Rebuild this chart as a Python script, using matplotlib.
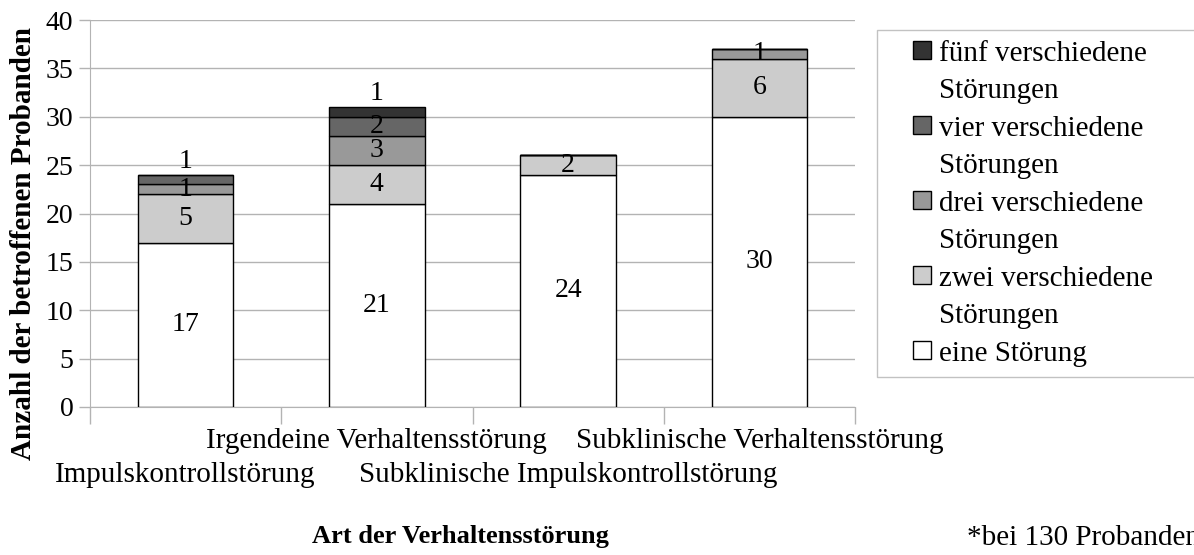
import matplotlib
matplotlib.use("Agg")
import matplotlib.pyplot as plt
import matplotlib.transforms as mtransforms
from matplotlib.patches import Patch, Rectangle
from matplotlib.legend_handler import HandlerPatch

categories = ["Impulskontrollstörung", "Irgendeine Verhaltensstörung",
              "Subklinische Impulskontrollstörung", "Subklinische Verhaltensstörung"]
series_names = ["eine Störung", "zwei verschiedene\nStörungen", "drei verschiedene\nStörungen",
                "vier verschiedene\nStörungen", "fünf verschiedene\nStörungen"]
eine = [17, 21, 24, 30]
zwei = [5, 4, 2, 6]
drei = [1, 3, 0, 1]
vier = [1, 2, 0, 0]
fuenf = [0, 1, 0, 0]
series = [eine, zwei, drei, vier, fuenf]
colors = ["#ffffff", "#cccccc", "#999999", "#666666", "#333333"]

plt.rcParams['font.family'] = ['Liberation Serif', 'DejaVu Serif']
fig = plt.figure(figsize=(11.94, 5.55), dpi=100)
ax = fig.add_axes([90/1194, 1-407/555, (855-90)/1194, (407-20)/555])

x = list(range(len(categories)))
totals = [sum(s[i] for s in series) for i in x]
bottom = [0]*len(categories)
for vals, col in zip(series, colors):
    ax.bar(x, vals, width=0.5, bottom=bottom, color=col, edgecolor="black", linewidth=1.0, zorder=3)
    for i, v in enumerate(vals):
        if v > 0:
            top = bottom[i] + v
            if top == totals[i] and v == 1 and i in (0, 1):
                ax.text(i, top + 0.1, str(v), ha="center", va="bottom", fontsize=20, zorder=4)
            else:
                ax.text(i, bottom[i] + v/2, str(v), ha="center", va="center", fontsize=20, zorder=4)
    bottom = [b + v for b, v in zip(bottom, vals)]

ax.set_xlim(-0.5, 3.5)
ax.set_ylim(0, 40)
ax.set_yticks(range(0, 41, 5))
ax.yaxis.grid(True, color="#b3b3b3", linewidth=1, zorder=0)
ax.set_axisbelow(True)
for s in ["top", "right"]:
    ax.spines[s].set_visible(False)
for s in ["left", "bottom"]:
    ax.spines[s].set_color("#b3b3b3")
ax.tick_params(axis="y", colors="#b3b3b3", length=8, width=1, labelcolor="black", labelsize=20, pad=4)
ax.set_xticks([-0.5, 0.5, 1.5, 2.5, 3.5])
ax.set_xticklabels([])
ax.tick_params(axis="x", colors="#b3b3b3", length=12, width=1)

trans = mtransforms.blended_transform_factory(ax.transData, ax.transAxes)
for i, c in enumerate(categories):
    yy = -0.087 if i % 2 == 1 else -0.175
    ax.text(i, yy, c, transform=trans, ha="center", va="center", fontsize=21)

fig.text(24/1194, 1-243/555, "Anzahl der betroffenen Probanden", rotation=90, ha="center", va="center",
         fontsize=21, fontweight="bold")
fig.text(460/1194, 1-537/555, "Art der Verhaltensstörung", ha="center", va="center",
         fontsize=19, fontweight="bold")
fig.text(967/1194, 1-538/555, "*bei 130 Probanden", ha="left", va="center", fontsize=21)

# legend: one row per text line, handle only on first line of each entry
SQ = 18 * 72 / 100  # square side in points


def square(legend, orig_handle, xdescent, ydescent, width, height, fontsize):
    return Rectangle((width - SQ - xdescent, (height - SQ) / 2 - ydescent), SQ, SQ)


handles, labels = [], []
for name, col in list(zip(series_names, colors))[::-1]:
    lines = name.split("\n")
    handles.append(Patch(facecolor=col, edgecolor="black", linewidth=1))
    labels.append(lines[0])
    for extra in lines[1:]:
        handles.append(Patch(facecolor="none", edgecolor="none", linewidth=0))
        labels.append(extra)

leg = fig.legend(handles, labels, loc="upper left",
                 bbox_to_anchor=(877/1194, 1-30/555-0.01, 330/1194, 0.01), mode="expand",
                 fontsize=21, frameon=True, fancybox=False, handlelength=1.5, handleheight=0.7,
                 handletextpad=0.28, labelspacing=0.38, borderpad=0.35, edgecolor="#b3b3b3",
                 borderaxespad=0,
                 handler_map={Patch: HandlerPatch(patch_func=square)})
leg.get_frame().set_linewidth(1)

fig.savefig("out.png", dpi=100)
